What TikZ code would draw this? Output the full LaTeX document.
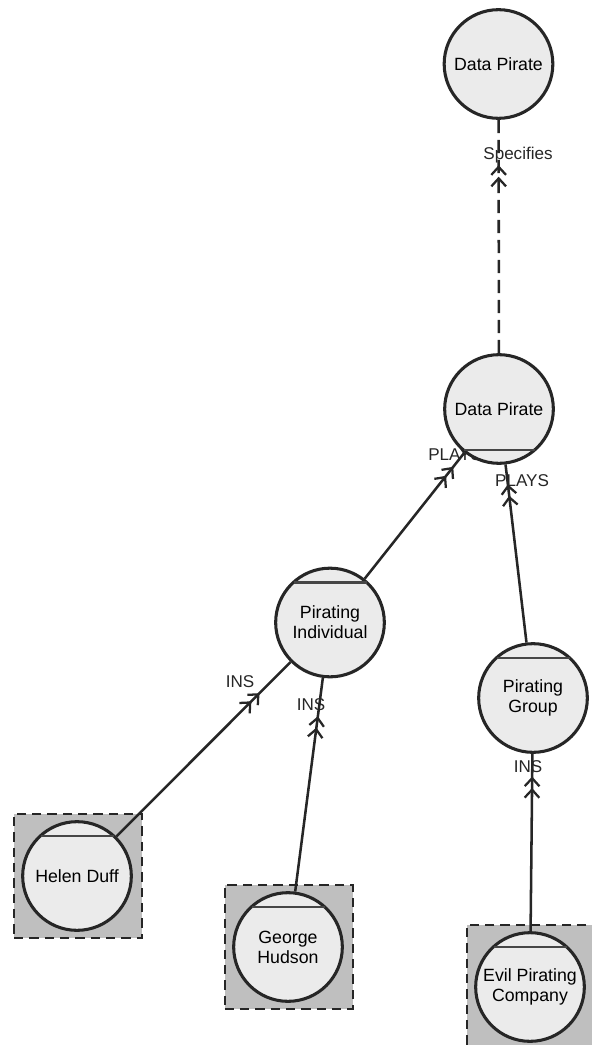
\documentclass[tikz,border=0pt]{standalone}
\usepackage{fontspec}
\setmainfont{Liberation Sans}
\usetikzlibrary{arrows.meta,decorations.markings}
\pgfdeclarelayer{boxes}
\pgfdeclarelayer{links}
\pgfsetlayers{boxes,links,main}
\definecolor{ink}{HTML}{262626}
\definecolor{circlefill}{HTML}{EBEBEB}
\definecolor{boxfill}{HTML}{BFBFBF}
\definecolor{chordgray}{HTML}{464646}
\begin{document}
\begin{tikzpicture}[x=0.75pt,y=-0.75pt,
  concept/.style={circle, draw=ink, line width=2.3pt, fill=circlefill,
    minimum size=81.5pt, inner sep=0pt, align=center,
    font=\fontsize{13.3}{15}\selectfont},
  instbox/.style={rectangle, draw=ink, dash pattern=on 7pt off 4.5pt,
    line width=1.5pt, fill=boxfill, minimum width=96pt,
    minimum height=93pt, inner sep=0pt},
  link/.style={draw=ink, line width=1.9pt},
  barb/.tip={Straight Barb[length=6pt,width=11pt,line width=1.7pt]},
  headat/.style={postaction={decorate}, decoration={markings,
    mark=at position #1 with {\arrow{barb[sep=0.5pt] barb}}}},
  lbl/.style={font=\fontsize{12.8}{14}\selectfont, inner sep=0pt, text=ink},
  chord/.style={draw=chordgray, line width=2pt}
]
\useasboundingbox (0,0) rectangle (592,1045);
\clip (0,0) rectangle (592,1045);

% concept and instance nodes
\node[concept] (dptop) at (498.5,64) {Data Pirate};
\node[concept] (dpmid) at (499,409) {Data Pirate};
\node[concept] (pind)  at (330,622.5) {Pirating\\Individual};
\node[concept] (pgrp)  at (533,698) {Pirating\\Group};
\node[concept] (helen) at (77,876) {Helen Duff};
\node[concept] (george) at (288,947) {George\\Hudson};
\node[concept] (evil)  at (530,987) {Evil Pirating\\Company};

% chords marking the role segment of each circle
\draw[chord, shift={(dpmid.center)}] (-35.5,41) -- (35.5,41);
\foreach \n in {pind,pgrp,helen,george,evil}
  \draw[chord, shift={(\n.center)}] (-36.5,-40) -- (36.5,-40);

% dashed frames around the instances
\begin{pgfonlayer}{boxes}
  \node[instbox] (helenbox) at (78,875.5) {};
  \node[instbox] (georgebox) at (288.5,947) {};
  \node[instbox] (evilbox) at (531,986.5) {};
\end{pgfonlayer}

% connectors and their labels
\begin{pgfonlayer}{links}
  \draw[link, dash pattern=on 10pt off 5pt, headat=-34pt] (dpmid) -- (dptop);
  \draw[link, headat=-13pt] (pind) -- (dpmid);
  \draw[link, headat=-15pt] (pgrp) -- (dpmid);
  \draw[link, headat=-33pt] (helen) -- (pind);
  \draw[link, headat=-29pt] (george) -- (pind);
  \draw[link, headat=-17pt] (evil) -- (pgrp);

  \node[lbl] (lspec) at (518,155) {Specifies};
  \node[lbl, anchor=west] (lplays1) at (428,455) {PLAYS};
  \node[lbl] (lplays2) at (522,481) {PLAYS};
  \node[lbl] (lins1) at (240,682) {INS};
  \node[lbl] (lins2) at (311,705) {INS};
  \node[lbl] (lins3) at (528,767) {INS};
\end{pgfonlayer}
\end{tikzpicture}
\end{document}
